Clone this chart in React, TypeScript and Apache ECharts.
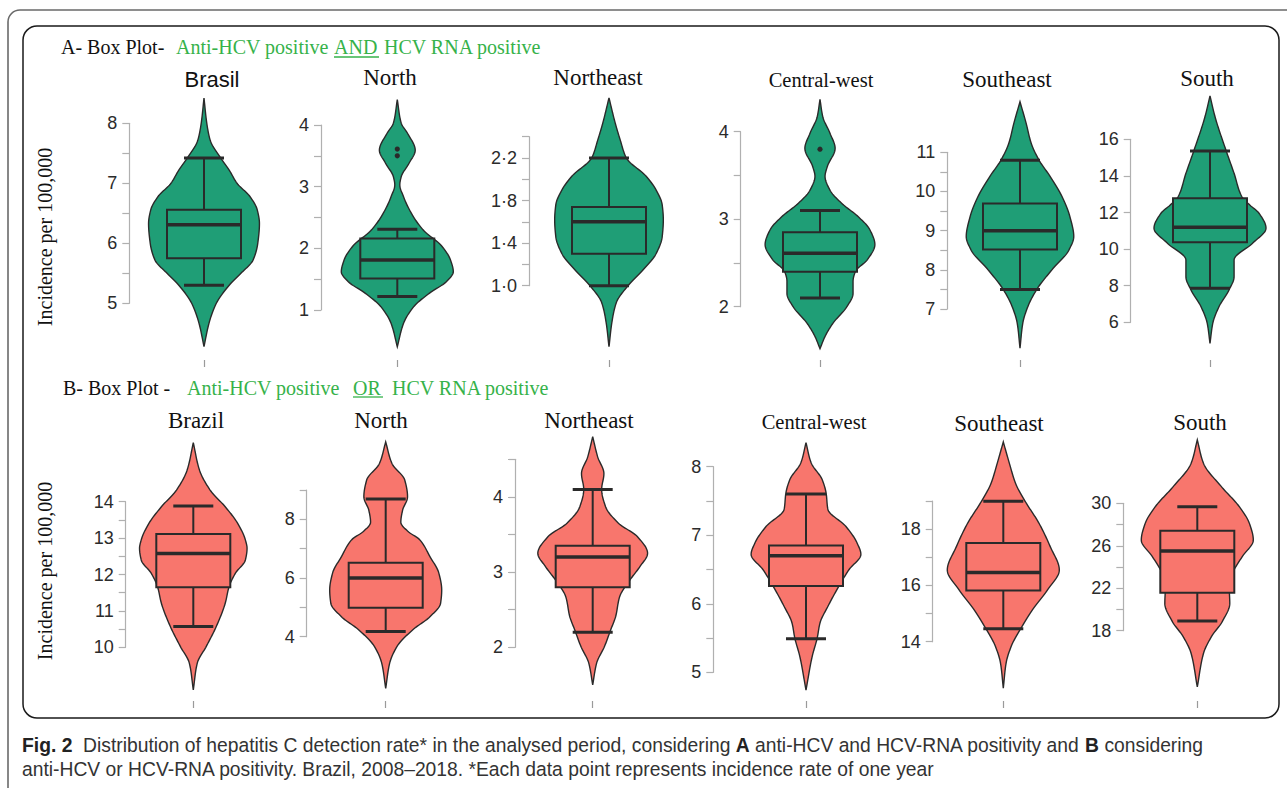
import React, { useEffect, useRef } from "react";
import * as echarts from "echarts";

// ---------------- DATA ----------------
const REGIONS_A = ["Brasil", "North", "Northeast", "Central-west", "Southeast", "South"];
const REGIONS_B = ["Brazil", "North", "Northeast", "Central-west", "Southeast", "South"];

// box statistics: [lower whisker, Q1, median, Q3, upper whisker]
const BOX_A = [
  [5.3, 5.75, 6.31, 6.56, 7.42],
  [1.22, 1.51, 1.81, 2.16, 2.31],
  [1.0, 1.3, 1.6, 1.74, 2.2],
  [2.1, 2.4, 2.61, 2.85, 3.1],
  [7.5, 8.52, 9.0, 9.69, 10.8],
  [7.86, 10.37, 11.19, 12.78, 15.36],
];
const BOX_B = [
  [10.57, 11.65, 12.58, 13.11, 13.88],
  [4.18, 4.99, 6.0, 6.52, 8.69],
  [2.2, 2.8, 3.2, 3.35, 4.1],
  [5.49, 6.26, 6.7, 6.85, 7.6],
  [14.46, 15.82, 16.46, 17.51, 18.99],
  [18.92, 21.57, 25.5, 27.42, 29.68],
];
const OUTLIERS_A = [[], [3.5, 3.61], [], [3.8], [], []];
const OUTLIERS_B = [[], [], [], [], [], []];

// violin outlines: [value, relative half-width (1 = widest)]
const VIOLIN_A_BRASIL = [[8.42, 0], [8.0, 0.05], [7.72, 0.11], [7.42, 0.3], [7.22, 0.45], [7.0, 0.59], [6.78, 0.82], [6.56, 0.95], [6.33, 0.99], [6.0, 0.96], [5.72, 0.875], [5.5, 0.66], [5.3, 0.45], [5.0, 0.22], [4.67, 0.09], [4.28, 0]];
const VIOLIN_A_NORTH = [[4.41, 0], [4.03, 0.07], [3.87, 0.18], [3.59, 0.32], [3.38, 0.21], [3.16, 0.07], [3.03, 0.045], [2.84, 0.11], [2.57, 0.25], [2.3, 0.46], [2.03, 0.8], [1.81, 0.95], [1.62, 1.0], [1.46, 0.875], [1.27, 0.57], [1.05, 0.29], [0.78, 0.11], [0.405, 0]];
const VIOLIN_A_NORTHEAST = [[2.765, 0], [2.53, 0.11], [2.37, 0.2], [2.2, 0.31], [2.03, 0.66], [1.9, 0.84], [1.76, 0.95], [1.62, 0.97], [1.46, 0.95], [1.3, 0.84], [1.15, 0.61], [1.0, 0.34], [0.84, 0.13], [0.65, 0.05], [0.426, 0]];
const VIOLIN_A_CENTRALWEST = [[4.37, 0], [4.17, 0.05], [3.98, 0.18], [3.81, 0.27], [3.6, 0.13], [3.49, 0.09], [3.33, 0.18], [3.18, 0.39], [3.03, 0.68], [2.88, 0.89], [2.71, 0.98], [2.54, 0.85], [2.4, 0.63], [2.29, 0.59], [2.15, 0.59], [2.0, 0.48], [1.81, 0.23], [1.66, 0.09], [1.52, 0]];
const VIOLIN_A_SOUTHEAST = [[12.29, 0], [11.74, 0.11], [11.23, 0.2], [10.8, 0.34], [10.38, 0.54], [9.87, 0.75], [9.36, 0.89], [8.85, 0.96], [8.51, 0.875], [8.0, 0.57], [7.5, 0.3], [7.06, 0.14], [6.64, 0.05], [6.0, 0]];
const VIOLIN_A_SOUTH = [[18.37, 0], [17.23, 0.09], [15.36, 0.29], [14.14, 0.43], [12.86, 0.57], [12.41, 0.71], [11.96, 0.875], [11.14, 1.0], [10.32, 0.76], [9.4, 0.43], [8.49, 0.43], [7.77, 0.34], [6.85, 0.16], [5.95, 0.05], [4.85, 0]];

const VIOLIN_B_BRAZIL = [[15.62, 0], [14.87, 0.11], [14.32, 0.3], [13.86, 0.57], [13.41, 0.79], [12.95, 0.93], [12.72, 0.96], [12.4, 0.93], [12.03, 0.75], [11.67, 0.64], [11.21, 0.57], [10.57, 0.41], [10.02, 0.23], [9.56, 0.07], [8.83, 0]];
const VIOLIN_B_NORTH = [[10.64, 0], [9.91, 0.11], [9.34, 0.34], [8.77, 0.39], [8.3, 0.3], [7.9, 0.27], [7.6, 0.39], [7.3, 0.61], [6.73, 0.79], [6.16, 0.95], [5.59, 1.0], [5.14, 0.98], [4.68, 0.79], [4.23, 0.48], [3.66, 0.2], [3.09, 0.07], [2.24, 0]];
const VIOLIN_B_NORTHEAST = [[4.8, 0], [4.53, 0.09], [4.31, 0.2], [4.1, 0.16], [3.87, 0.23], [3.65, 0.46], [3.47, 0.8], [3.25, 0.98], [3.07, 0.84], [2.89, 0.66], [2.67, 0.48], [2.41, 0.41], [2.23, 0.32], [2.01, 0.21], [1.79, 0.07], [1.5, 0]];
const VIOLIN_B_CENTRALWEST = [[8.35, 0], [8.06, 0.09], [7.81, 0.29], [7.61, 0.36], [7.38, 0.39], [7.13, 0.71], [6.89, 0.91], [6.72, 0.98], [6.5, 0.77], [6.26, 0.59], [5.96, 0.39], [5.72, 0.25], [5.5, 0.2], [5.23, 0.11], [4.74, 0]];
const VIOLIN_B_SOUTHEAST = [[21.1, 0], [20.33, 0.11], [19.62, 0.22], [18.99, 0.39], [18.2, 0.64], [17.37, 0.84], [16.55, 1.0], [15.84, 0.79], [15.13, 0.52], [14.46, 0.31], [13.83, 0.14], [13.24, 0.05], [12.35, 0]];
const VIOLIN_B_SOUTH = [[35.97, 0], [33.77, 0.11], [31.57, 0.43], [29.68, 0.75], [28.11, 0.93], [26.54, 1.0], [24.96, 0.8], [23.4, 0.63], [22.13, 0.57], [20.57, 0.58], [18.9, 0.45], [17.42, 0.25], [15.85, 0.11], [12.7, 0]];

const VIOLINS_A = [VIOLIN_A_BRASIL, VIOLIN_A_NORTH, VIOLIN_A_NORTHEAST, VIOLIN_A_CENTRALWEST, VIOLIN_A_SOUTHEAST, VIOLIN_A_SOUTH];
const VIOLINS_B = [VIOLIN_B_BRAZIL, VIOLIN_B_NORTH, VIOLIN_B_NORTHEAST, VIOLIN_B_CENTRALWEST, VIOLIN_B_SOUTHEAST, VIOLIN_B_SOUTH];

// y-axis ticks and labelled ticks
const Y_TICKS_A = [
  [5, 5.5, 6, 6.5, 7, 7.5, 8],
  [1, 1.5, 2, 2.5, 3, 3.5, 4],
  [1.0, 1.2, 1.4, 1.6, 1.8, 2.0, 2.2, 2.4],
  [2, 2.5, 3, 3.5, 4],
  [7, 7.5, 8, 8.5, 9, 9.5, 10, 10.5, 11],
  [6, 8, 10, 12, 14, 16],
];
const Y_LABELS_A = [[5, 6, 7, 8], [1, 2, 3, 4], [1.0, 1.4, 1.8, 2.2], [2, 3, 4], [7, 8, 9, 10, 11], [6, 8, 10, 12, 14, 16]];
const Y_DECIMALS_A = [0, 0, 1, 0, 0, 0];
const Y_TICKS_B = [
  [10, 10.5, 11, 11.5, 12, 12.5, 13, 13.5, 14],
  [4, 5, 6, 7, 8, 9],
  [2, 2.5, 3, 3.5, 4, 4.5],
  [5, 5.5, 6, 6.5, 7, 7.5, 8],
  [14, 15, 16, 17, 18, 19],
  [18, 20, 22, 24, 26, 28, 30],
];
const Y_LABELS_B = [[10, 11, 12, 13, 14], [4, 6, 8], [2, 3, 4], [5, 6, 7, 8], [14, 16, 18], [18, 22, 26, 30]];
const Y_DECIMALS_B = [0, 0, 0, 0, 0, 0];

// ---------------- STYLE / LAYOUT ----------------
const GREEN = "#1f9e76";
const RED = "#f8766d";
const INK = "#2a2a2a";
const TEXT_GREEN = "#36b24a";
const AXIS_GRAY = "#b0b0b0";
const MAX_HALF_WIDTH = 56;
const BOX_HALF_WIDTH = 37;
const CAP_HALF_WIDTH = 20;
const SERIF = "'Liberation Serif', 'Times New Roman', serif";
const SANS = "'Liberation Sans', Arial, sans-serif";
const CAPTION_SIZE = 19.3;

const LAYOUT_A = {
  axisX: [129.3, 321, 529, 740.7, 947.3, 1130.7],
  center: [204, 397.3, 609, 820, 1020, 1210],
  yTop: [123.3, 125, 136.7, 131.7, 152.3, 139.3],
  yBottom: [303.3, 310, 285.7, 306.7, 309, 322.3],
  tickY: 360,
  titleX: [212, 390, 598, 821, 1007, 1207],
  titleY: [79, 77, 77, 80, 79, 78],
};
const LAYOUT_B = {
  axisX: [125.7, 306.7, 515, 713.3, 932.7, 1123.3],
  center: [193.3, 385.7, 592.7, 806, 1003.3, 1197.3],
  yTop: [501.7, 490, 459.3, 466.7, 501, 503.3],
  yBottom: [647.3, 636.7, 647.3, 672.3, 641.7, 630.7],
  tickY: 701,
  titleX: [196, 381, 589, 814, 999, 1200],
  titleY: [420, 420, 420, 422, 423, 422],
};

const ROWS = [
  { names: REGIONS_A, boxes: BOX_A, outliers: OUTLIERS_A, violins: VIOLINS_A, ticks: Y_TICKS_A, labels: Y_LABELS_A, decimals: Y_DECIMALS_A, fill: GREEN, layout: LAYOUT_A },
  { names: REGIONS_B, boxes: BOX_B, outliers: OUTLIERS_B, violins: VIOLINS_B, ticks: Y_TICKS_B, labels: Y_LABELS_B, decimals: Y_DECIMALS_B, fill: RED, layout: LAYOUT_B },
];

// monotone cubic (PCHIP) sampling of the outline, for drawing a smooth curve
function pchip(xs: number[], ys: number[], step: number): number[][] {
  const m = xs.length;
  const h: number[] = [];
  const d: number[] = [];
  for (let i = 0; i < m - 1; i++) {
    h[i] = xs[i + 1] - xs[i];
    d[i] = (ys[i + 1] - ys[i]) / h[i];
  }
  const s: number[] = new Array(m).fill(0);
  s[0] = d[0];
  s[m - 1] = d[m - 2];
  for (let i = 1; i < m - 1; i++) {
    if (d[i - 1] * d[i] <= 0) s[i] = 0;
    else {
      const w1 = 2 * h[i] + h[i - 1];
      const w2 = h[i] + 2 * h[i - 1];
      s[i] = (w1 + w2) / (w1 / d[i - 1] + w2 / d[i]);
    }
  }
  const out: number[][] = [];
  for (let i = 0; i < m - 1; i++) {
    const n = Math.max(2, Math.ceil(h[i] / step));
    for (let k = 0; k < n; k++) {
      const t = k / n;
      const t2 = t * t;
      const t3 = t2 * t;
      const y =
        (2 * t3 - 3 * t2 + 1) * ys[i] +
        (t3 - 2 * t2 + t) * h[i] * s[i] +
        (-2 * t3 + 3 * t2) * ys[i + 1] +
        (t3 - t2) * h[i] * s[i + 1];
      out.push([xs[i] + t * h[i], Math.max(0, y)]);
    }
  }
  out.push([xs[m - 1], ys[m - 1]]);
  return out;
}

function makeRenderer(profile: number[][], box: number[], outliers: number[], fill: string) {
  return (_params: any, api: any) => {
    const pt = (v: number) => api.coord([0, v]);
    const cx = pt(box[2])[0];
    const py = profile.map((p) => pt(p[0])[1]);
    const pw = profile.map((p) => p[1] * MAX_HALF_WIDTH);
    const samples = pchip(py, pw, 1);
    const left = samples.map(([y, w]) => [cx - w, y]);
    const right = samples.slice().reverse().map(([y, w]) => [cx + w, y]);
    const [yLo, yQ1, yMed, yQ3, yHi] = box.map((v) => pt(v)[1]);
    const children: any[] = [
      { type: "polygon", shape: { points: left.concat(right) }, style: { fill, stroke: INK, lineWidth: 1.4 } },
      { type: "line", shape: { x1: cx, y1: yHi, x2: cx, y2: yQ3 }, style: { stroke: INK, lineWidth: 2 } },
      { type: "line", shape: { x1: cx, y1: yQ1, x2: cx, y2: yLo }, style: { stroke: INK, lineWidth: 2 } },
      { type: "rect", shape: { x: cx - BOX_HALF_WIDTH, y: yQ3, width: BOX_HALF_WIDTH * 2, height: yQ1 - yQ3 }, style: { fill, stroke: INK, lineWidth: 2 } },
      { type: "line", shape: { x1: cx - BOX_HALF_WIDTH, y1: yMed, x2: cx + BOX_HALF_WIDTH, y2: yMed }, style: { stroke: INK, lineWidth: 3.5 } },
      { type: "line", shape: { x1: cx - CAP_HALF_WIDTH, y1: yHi, x2: cx + CAP_HALF_WIDTH, y2: yHi }, style: { stroke: INK, lineWidth: 3 } },
      { type: "line", shape: { x1: cx - CAP_HALF_WIDTH, y1: yLo, x2: cx + CAP_HALF_WIDTH, y2: yLo }, style: { stroke: INK, lineWidth: 3 } },
    ];
    outliers.forEach((v) => {
      children.push({ type: "circle", shape: { cx, cy: pt(v)[1], r: 2.6 }, style: { fill: INK } });
    });
    return { type: "group", children };
  };
}

function txt(x: number, y: number, text: string, fontSize: number, fontFamily: string, fill: string, align = "left", extra: any = {}) {
  const { style: extraStyle, ...rest } = extra;
  return {
    type: "text",
    x,
    y,
    silent: true,
    ...rest,
    style: {
      text,
      fontSize,
      fontFamily,
      fill,
      align,
      verticalAlign: "middle",
      textAlign: align,
      textVerticalAlign: "middle",
      ...(extraStyle || {}),
    },
  };
}

function buildOption() {
  const grid: any[] = [];
  const xAxis: any[] = [];
  const yAxis: any[] = [];
  const series: any[] = [];
  const graphic: any[] = [];

  ROWS.forEach((row) => {
    const L = row.layout;
    row.names.forEach((name, i) => {
      const k = grid.length;
      grid.push({
        left: L.axisX[i],
        top: L.yTop[i],
        width: 2 * (L.center[i] - L.axisX[i]),
        height: L.yBottom[i] - L.yTop[i],
        outerBoundsMode: "none",
      });
      const ticks = row.ticks[i];
      const dec = row.decimals[i];
      yAxis.push({
        type: "value",
        gridIndex: k,
        position: "left",
        min: ticks[0],
        max: ticks[ticks.length - 1],
        axisLine: { show: true, onZero: false, lineStyle: { color: AXIS_GRAY, width: 1.2 } },
        axisTick: { show: true, length: 7, customValues: ticks, lineStyle: { color: AXIS_GRAY, width: 1.2 } },
        axisLabel: {
          customValues: row.labels[i],
          margin: 12,
          fontSize: 18,
          fontFamily: SANS,
          color: "#2b2b2b",
          formatter: (v: number) => (dec > 0 ? v.toFixed(dec).replace(".", "\u00b7") : String(v)),
        },
        splitLine: { show: false },
      });
      xAxis.push({
        type: "value",
        gridIndex: k,
        position: "bottom",
        min: -1,
        max: 1,
        offset: L.tickY - L.yBottom[i],
        axisLine: { show: false, onZero: false },
        axisTick: { show: true, length: 7, customValues: [0], lineStyle: { color: "#9a9a9a", width: 1.2 } },
        axisLabel: { show: false },
        splitLine: { show: false },
      });
      series.push({
        type: "custom",
        name,
        xAxisIndex: k,
        yAxisIndex: k,
        clip: false,
        silent: true,
        data: [[0, row.boxes[i][2]]],
        renderItem: makeRenderer(row.violins[i], row.boxes[i], row.outliers[i], row.fill),
      });
      const isSans = name === "Brasil";
      graphic.push(
        txt(L.titleX[i], L.titleY[i], name, name === "Central-west" ? 20.5 : isSans ? 22 : 23, isSans ? SANS : SERIF, "#111", "center")
      );
    });
  });

  // frames
  graphic.unshift(
    { type: "rect", silent: true, shape: { x: 8, y: 10, width: 1320, height: 820, r: 12 }, style: { fill: "none", stroke: "#6a6a6a", lineWidth: 1.6 } },
    { type: "rect", silent: true, shape: { x: 23, y: 26, width: 1256, height: 692, r: 14 }, style: { fill: "none", stroke: "#1a1a1a", lineWidth: 1.5 } }
  );

  // panel headers
  graphic.push(
    txt(61, 47, "A- Box Plot-", 20, SERIF, "#111"),
    txt(176, 47, "Anti-HCV positive", 20, SERIF, TEXT_GREEN),
    txt(334, 47, "AND", 20, SERIF, TEXT_GREEN),
    { type: "line", silent: true, shape: { x1: 334, y1: 57, x2: 379, y2: 57 }, style: { stroke: TEXT_GREEN, lineWidth: 1.3 } },
    txt(384, 47, "HCV RNA positive", 20, SERIF, TEXT_GREEN),
    txt(63, 388, "B- Box Plot -", 20, SERIF, "#111"),
    txt(187, 388, "Anti-HCV positive", 20, SERIF, TEXT_GREEN),
    txt(353, 388, "OR", 20, SERIF, TEXT_GREEN),
    { type: "line", silent: true, shape: { x1: 353, y1: 397, x2: 383, y2: 397 }, style: { stroke: TEXT_GREEN, lineWidth: 1.3 } },
    txt(392, 388, "HCV RNA positive", 20, SERIF, TEXT_GREEN)
  );

  // y-axis titles
  graphic.push(
    txt(45, 237, "Incidence per 100,000", 20, SERIF, "#111", "center", { rotation: Math.PI / 2 }),
    txt(45, 571, "Incidence per 100,000", 20, SERIF, "#111", "center", { rotation: Math.PI / 2 })
  );

  // caption
  const rich = { b: { fontWeight: "bold", fontSize: CAPTION_SIZE, fontFamily: SANS, fill: "#222", color: "#222" } };
  graphic.push(
    txt(22, 745, "{b|Fig. 2}  Distribution of hepatitis C detection rate* in the analysed period, considering {b|A} anti-HCV and HCV-RNA positivity and {b|B} considering", CAPTION_SIZE, SANS, "#333", "left", { style: { rich } }),
    txt(22, 769, "anti-HCV or HCV-RNA positivity. Brazil, 2008\u20132018. *Each data point represents incidence rate of one year", CAPTION_SIZE, SANS, "#333", "left")
  );

  return { animation: false, grid, xAxis, yAxis, series, graphic };
}

export default function App() {
  const ref = useRef<HTMLDivElement>(null);
  useEffect(() => {
    document.body.style.margin = "0";
    const chart = echarts.init(ref.current!, null, { renderer: "svg" });
    chart.setOption(buildOption() as any);
    return () => chart.dispose();
  }, []);
  return <div ref={ref} style={{ width: 1287, height: 788, background: "#fff" }} />;
}
